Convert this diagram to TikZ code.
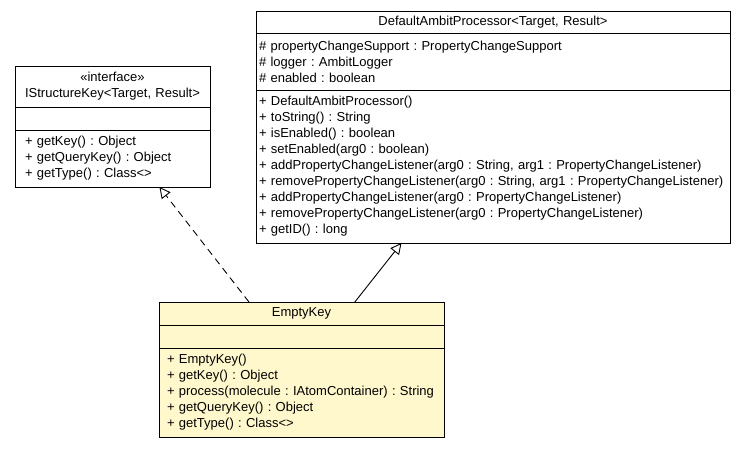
\documentclass[tikz,border=0pt]{standalone}
\usepackage{fontspec}
\setmainfont{Liberation Sans}
\usetikzlibrary{arrows.meta,fit}
\definecolor{keyfill}{RGB}{255,248,204}
\frenchspacing

\begin{document}
\begin{tikzpicture}[x=1pt,y=-1pt,
    box/.style={draw,line width=0.9pt,anchor=north,inner ysep=0pt,
      outer sep=0pt,font=\fontsize{13}{16}\selectfont},
    head/.style={box,align=center},
    part/.style={box,align=left},
    isk/.style={text width=175pt,inner xsep=10pt},
    iskhead/.style={text width=189pt,inner xsep=3pt},
    dap/.style={text width=468pt,inner xsep=3pt},
    ek/.style={text width=269pt,inner xsep=8pt,fill=keyfill},
    whole/.style={inner sep=0pt,outer sep=0pt},
    realizes/.style={dash pattern=on 7pt off 5pt,line width=0.9pt,
      -{Triangle[open,length=11pt,width=11pt]}},
    extends/.style={line width=0.9pt,-{Triangle[open,length=11pt,width=11pt]}}]
  \useasboundingbox (0,0) rectangle (747,448);

  \node[head,iskhead,minimum height=41pt] (ISKhead) at (112.5,66)
    {«interface»\\IStructureKey<Target, Result>};
  \node[part,isk,minimum height=23pt] (ISKattr) at (112.5,107) {};
  \node[part,isk,minimum height=57pt] (ISKops) at (112.5,130)
    {+ getKey() : Object\\+ getQueryKey() : Object\\+ getType() : Class<>};

  \node[head,dap,minimum height=22pt] (DAPhead) at (493,11)
    {DefaultAmbitProcessor<Target, Result>};
  \node[part,dap,minimum height=57pt] (DAPattr) at (493,33)
    {\# propertyChangeSupport : PropertyChangeSupport\\\# logger : AmbitLogger\\\# enabled : boolean};
  \node[part,dap,minimum height=153pt] (DAPops) at (493,90)
    {+ DefaultAmbitProcessor()\\+ toString() : String\\+ isEnabled() : boolean\\
     + setEnabled(arg0 : boolean)\\
     + addPropertyChangeListener(arg0 : String, arg1 : PropertyChangeListener)\\
     + removePropertyChangeListener(arg0 : String, arg1 : PropertyChangeListener)\\
     + addPropertyChangeListener(arg0 : PropertyChangeListener)\\
     + removePropertyChangeListener(arg0 : PropertyChangeListener)\\+ getID() : long};

  \node[head,ek,minimum height=23pt] (EKhead) at (301.5,302) {EmptyKey};
  \node[part,ek,minimum height=23pt] (EKattr) at (301.5,325) {};
  \node[part,ek,minimum height=89pt] (EKops) at (301.5,348)
    {+ EmptyKey()\\+ getKey() : Object\\+ process(molecule : IAtomContainer) : String\\
     + getQueryKey() : Object\\+ getType() : Class<>};

  \node[whole,fit=(ISKhead)(ISKops)] (IStructureKey) {};
  \node[whole,fit=(DAPhead)(DAPops)] (DefaultAmbitProcessor) {};
  \node[whole,fit=(EKhead)(EKops)] (EmptyKey) {};

  \path[realizes] (EmptyKey) edge (IStructureKey);
  \path[extends] (EmptyKey) edge (DefaultAmbitProcessor);
\end{tikzpicture}
\end{document}
